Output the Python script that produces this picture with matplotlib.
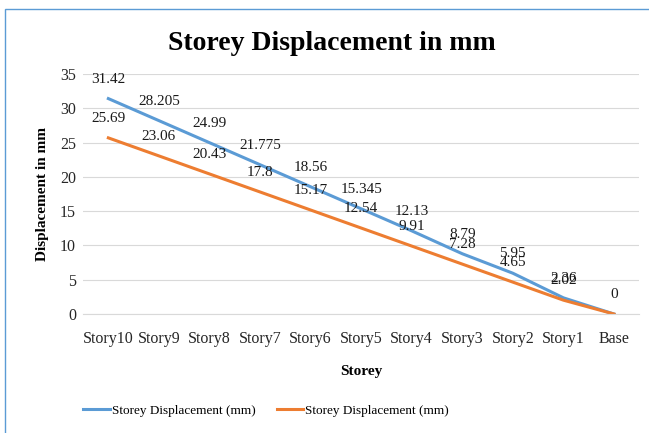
import matplotlib.pyplot as plt
from matplotlib.patches import Rectangle

storeys = ['Story10', 'Story9', 'Story8', 'Story7', 'Story6', 'Story5',
           'Story4', 'Story3', 'Story2', 'Story1', 'Base']
disp_a = [31.42, 28.205, 24.99, 21.775, 18.56, 15.345, 12.13, 8.79, 5.95, 2.36, 0]
disp_b = [25.69, 23.06, 20.43, 17.8, 15.17, 12.54, 9.91, 7.28, 4.65, 2.02, 0]
yticks = [0, 5, 10, 15, 20, 25, 30, 35]

plt.rcParams['font.family'] = ['Liberation Serif', 'DejaVu Serif']

fig = plt.figure(figsize=(6.49, 4.33), dpi=100)
ax = fig.add_axes([0.128, 0.2748, 0.857, 0.5542])

# chart border (light blue, only left and top fall inside the image)
fig.patches.append(Rectangle((5 / 649, -0.1), 1.2, 1 - 9 / 433 + 0.1,
                             transform=fig.transFigure, fill=False,
                             edgecolor='#5B9BD5', linewidth=1.0))

x = list(range(len(storeys)))
blue = '#5B9BD5'
orange = '#ED7D31'
ax.plot(x, disp_a, color=blue, linewidth=2.2, label='Storey Displacement (mm)')
ax.plot(x, disp_b, color=orange, linewidth=2.2, label='Storey Displacement (mm)')

for xi, v in zip(x, disp_a):
    ax.annotate(f'{v:g}', (xi, v), xytext=(0, 14), textcoords='offset points',
                ha='center', va='center', fontsize=11, color='#1a1a1a')
for xi, v in zip(x, disp_b):
    if v == 0:
        continue
    ax.annotate(f'{v:g}', (xi, v), xytext=(0, 14), textcoords='offset points',
                ha='center', va='center', fontsize=11, color='#1a1a1a')

ax.set_xlim(-0.5, len(storeys) - 0.5)
ax.set_ylim(0, 35)
ax.set_yticks(yticks)
ax.set_xticks(x)
ax.set_xticklabels(storeys)
ax.tick_params(length=0, labelsize=11.5, colors='#262626', pad=5)
ax.tick_params(axis='x', pad=12)
ax.grid(axis='y', color='#D9D9D9', linewidth=0.8)
ax.set_axisbelow(True)
for s in ['top', 'right', 'left']:
    ax.spines[s].set_visible(False)
ax.spines['bottom'].set_color('#D9D9D9')

fig.text(0.512, 0.9, 'Storey Displacement in mm', fontsize=20,
         fontweight='bold', ha='center', va='center')
ax.set_xlabel('Storey', fontsize=11, fontweight='bold', labelpad=13)
ax.set_ylabel('Displacement in mm', fontsize=11, fontweight='bold', labelpad=8)

fig.legend(loc='center', bbox_to_anchor=(0.41, 0.051), ncol=2, frameon=False,
           fontsize=9.5, handlelength=2.0, columnspacing=1.6, handletextpad=0.15)

fig.savefig('out.png', dpi=100)
